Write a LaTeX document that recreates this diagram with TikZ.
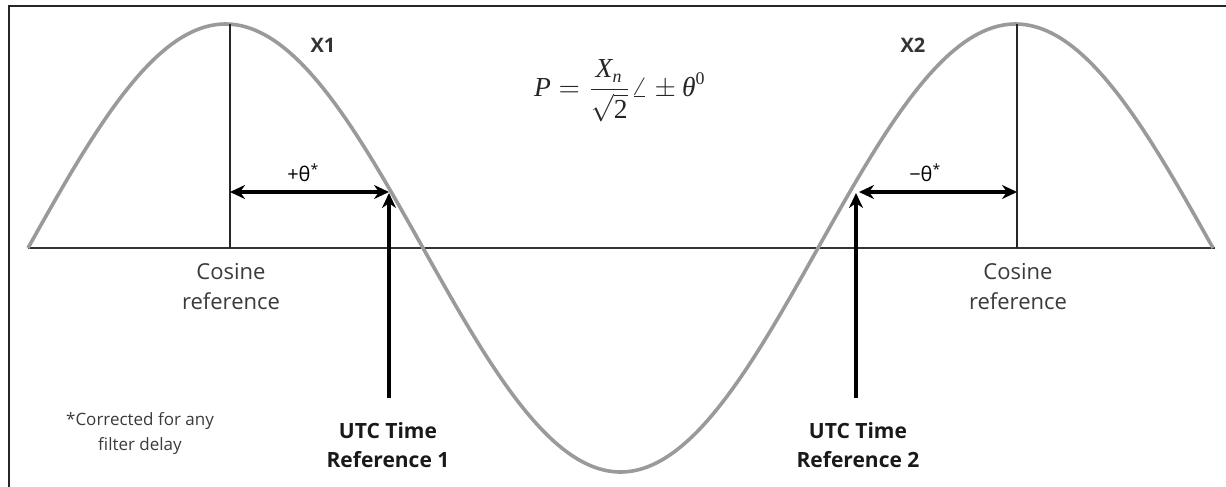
\documentclass[tikz,border=0pt]{standalone}
\usepackage[no-math]{fontspec}
\newfontfamily\gesans{Open Sans}
\newfontfamily\tms{Liberation Serif}
\usetikzlibrary{arrows.meta}
\definecolor{wave}{HTML}{9A9A9A}
\definecolor{txt}{HTML}{3A3A3A}
\newcommand{\tmi}[1]{\mbox{\tms\itshape #1}}
\newcommand{\tmsub}[1]{\mbox{\tms\itshape\fontsize{6.5}{7}\selectfont #1}}
\newcommand{\tmsup}[1]{\mbox{\tms\fontsize{6.5}{7}\selectfont #1}}
\begin{document}
\begin{tikzpicture}[x=1pt,y=-1pt,
  frameline/.style={line width=2.2pt,black!85},
  axisline/.style={line width=1.4pt,black!80},
  refline/.style={line width=1.3pt,black!85},
  waveline/.style={line width=3.6pt,wave,line join=round},
  bigarrow/.style={line width=3.4pt,black,-{Stealth[length=15pt,width=14pt]}},
  dblarrow/.style={line width=3.4pt,black,{Stealth[length=15pt,width=14pt]}-{Stealth[length=15pt,width=14pt]}},
  lbl/.style={font=\gesans\fontsize{22}{30}\selectfont,text=txt,align=center,inner sep=0pt},
  boldlbl/.style={font=\gesans\bfseries\fontsize{21}{29}\selectfont,text=black!90,align=center,inner sep=0pt},
  xlbl/.style={font=\gesans\bfseries\fontsize{20}{24}\selectfont,text=black!80,inner sep=0pt},
  thlbl/.style={font=\gesans\fontsize{20}{24}\selectfont,text=black,inner sep=0pt},
  notelbl/.style={font=\gesans\fontsize{17}{25}\selectfont,text=txt,align=center,inner sep=0pt}]
\useasboundingbox (0,0) rectangle (1226,487);
% frame
\coordinate (fbl) at (9,487);
\coordinate (ftl) at (9,6);
\coordinate (ftr) at (1226,6);
\draw[frameline] (fbl) -- (ftl) -- (ftr);
% axis
\coordinate (axl) at (28,248);
\coordinate (axr) at (1215,248);
\draw[axisline] (axl) -- (axr);
% wave
\draw[waveline] plot[domain=28:1213,samples=240,smooth] (\x,{248-224*sin((\x-28)*0.455696)});
% cosine reference lines
\coordinate (c1t) at (230,24);
\coordinate (c1b) at (230,248);
\coordinate (c2t) at (1017,24);
\coordinate (c2b) at (1017,248);
\draw[refline] (c1t) -- (c1b);
\draw[refline] (c2t) -- (c2b);
% UTC arrows
\coordinate (u1s) at (389,398);
\coordinate (u1e) at (389,193);
\coordinate (u2s) at (856,398);
\coordinate (u2e) at (856,193);
\draw[bigarrow] (u1s) -- (u1e);
\draw[bigarrow] (u2s) -- (u2e);
% theta arrows
\coordinate (h1l) at (230,192);
\coordinate (h1r) at (389,192);
\coordinate (h2l) at (859,192);
\coordinate (h2r) at (1017,192);
\draw[dblarrow] (h1l) -- (h1r);
\draw[dblarrow] (h2l) -- (h2r);
% labels
\node[xlbl] (x1) at (323,45) {X1};
\node[xlbl] (x2) at (913,45) {X2};
\node[thlbl] (t1) at (303,173) {+θ\textsuperscript{*}};
\node[thlbl] (t2) at (925,173) {−θ\textsuperscript{*}};
\node[inner sep=0pt,text=black!85,scale=2.75] (eq) at (620,91) {$\displaystyle \tmi{P}=\frac{\tmi{X}_{\tmsub{n}}}{\sqrt{\mbox{\tms 2}}}\angle\pm\tmi{θ}^{\tmsup{0}}$};
\node[lbl] (cos1) at (231,287) {Cosine\\reference};
\node[lbl] (cos2) at (1018,287) {Cosine\\reference};
\node[boldlbl] (utc1) at (388,445) {UTC Time\\Reference 1};
\node[boldlbl] (utc2) at (858,445) {UTC Time\\Reference 2};
\node[notelbl] (note) at (140,434) {*Corrected for any\\filter delay};
\end{tikzpicture}
\end{document}
